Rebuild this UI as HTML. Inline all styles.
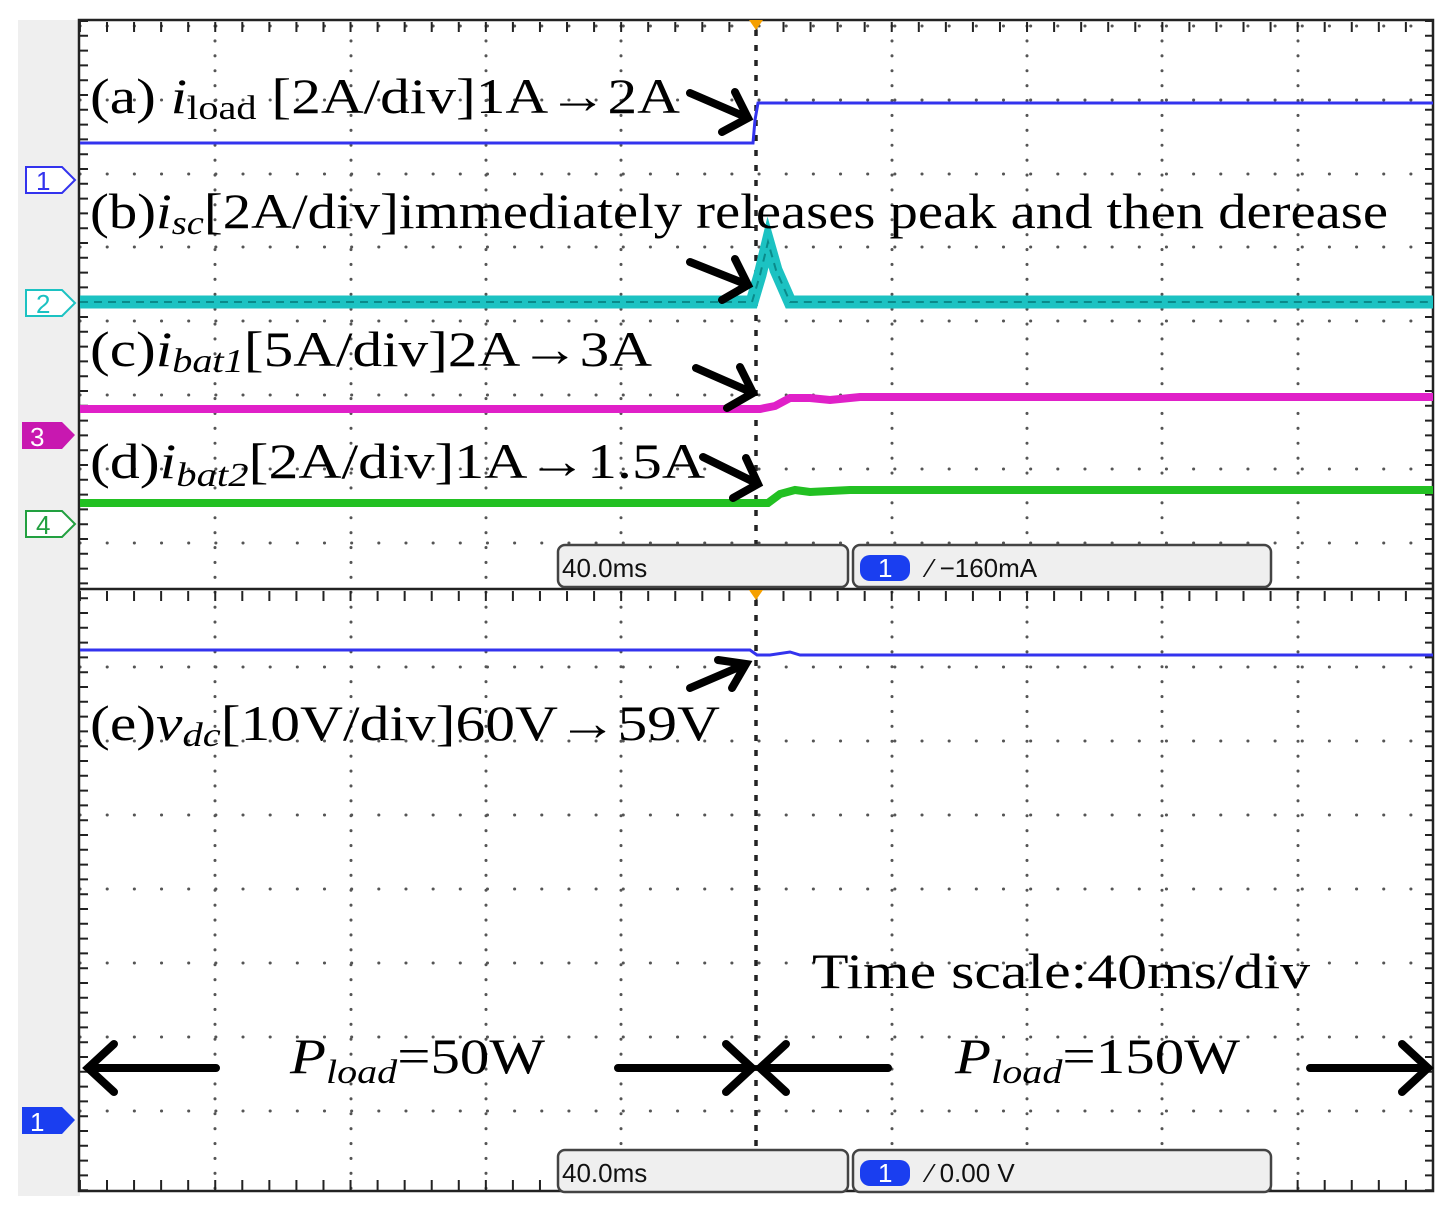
<!DOCTYPE html><html><head><meta charset="utf-8"><style>
html,body{margin:0;padding:0;background:#fff}
svg{display:block}
.t{font-family:"Liberation Serif",serif;font-size:50px;fill:#000}
.s{font-family:"Liberation Sans",sans-serif;font-size:26px;fill:#111}
</style></head><body>
<svg width="1448" height="1219" viewBox="0 0 1448 1219" xmlns="http://www.w3.org/2000/svg">
<rect x="18" y="20" width="62" height="1176" fill="#efefef"/>
<rect x="80" y="20" width="1353" height="1172" fill="#fff"/>
<g stroke="#555" stroke-width="3" stroke-linecap="round" stroke-dasharray="0.1 14.8">
<line x1="215" y1="26" x2="215" y2="1190"/><line x1="351" y1="26" x2="351" y2="1190"/><line x1="486" y1="26" x2="486" y2="1190"/><line x1="621" y1="26" x2="621" y2="1190"/><line x1="892" y1="26" x2="892" y2="1190"/><line x1="1027" y1="26" x2="1027" y2="1190"/><line x1="1162" y1="26" x2="1162" y2="1190"/><line x1="1298" y1="26" x2="1298" y2="1190"/>
</g>
<g stroke="#555" stroke-width="3" stroke-linecap="round" stroke-dasharray="0.1 27.06">
<line x1="80" y1="26" x2="1433" y2="26"/><line x1="80" y1="100" x2="1433" y2="100"/><line x1="80" y1="174" x2="1433" y2="174"/><line x1="80" y1="247" x2="1433" y2="247"/><line x1="80" y1="321" x2="1433" y2="321"/><line x1="80" y1="395" x2="1433" y2="395"/><line x1="80" y1="469" x2="1433" y2="469"/><line x1="80" y1="543" x2="1433" y2="543"/>
<line x1="80" y1="667" x2="1433" y2="667"/><line x1="80" y1="741" x2="1433" y2="741"/><line x1="80" y1="815" x2="1433" y2="815"/><line x1="80" y1="889" x2="1433" y2="889"/><line x1="80" y1="963" x2="1433" y2="963"/><line x1="80" y1="1037" x2="1433" y2="1037"/><line x1="80" y1="1111" x2="1433" y2="1111"/>
</g>
<line x1="756" y1="30" x2="756" y2="1190" stroke="#222" stroke-width="3.5" stroke-dasharray="6 9"/>
<g stroke="#222" stroke-width="2">
<line x1="80" y1="27" x2="1433" y2="27" stroke-dasharray="2 25.06" stroke-width="10" stroke-dashoffset="-26"/>
<line x1="80" y1="1185" x2="1433" y2="1185" stroke-dasharray="2 25.06" stroke-width="10" stroke-dashoffset="-26"/>
<line x1="80" y1="596" x2="1433" y2="596" stroke-dasharray="2 25.06" stroke-width="10" stroke-dashoffset="-26"/>
<line x1="84" y1="20" x2="84" y2="1190" stroke-dasharray="2 12.8" stroke-width="8"/>
<line x1="1429" y1="20" x2="1429" y2="1190" stroke-dasharray="2 12.8" stroke-width="8"/>
</g>
<rect x="79" y="20" width="1354" height="1171" fill="none" stroke="#222" stroke-width="2.5"/>
<line x1="79" y1="589" x2="1433" y2="589" stroke="#222" stroke-width="2.5"/>
<path d="M749 20 L763 20 L756 30Z" fill="#f5a000"/>
<path d="M749 590 L763 590 L756 600Z" fill="#f5a000"/>
<polyline points="80,143 753,143 755,120 758,103 1433,103" fill="none" stroke="#3333ee" stroke-width="3"/>
<polyline points="80,302 752,302 760,275 768,242 776,270 790,302 1433,302" fill="none" stroke="#1cc2c2" stroke-width="13"/>
<polyline points="80,302 752,302 760,275 768,242 776,270 790,302 1433,302" fill="none" stroke="#0a8a8a" stroke-width="2" stroke-dasharray="8 6"/>
<polyline points="80,409 760,409 775,406 790,398 810,398 830,400 860,397 1433,397" fill="none" stroke="#e020c8" stroke-width="8"/>
<polyline points="80,503 768,503 780,494 795,490 810,492 850,490 1433,490" fill="none" stroke="#22c022" stroke-width="8"/>
<polyline points="80,650 750,650 757,655 770,655 790,652 800,655 1433,655" fill="none" stroke="#3333ee" stroke-width="3"/>
<g stroke="#000" stroke-width="8" stroke-linecap="round" fill="none">
<path d="M690 93 L748 118 M722 132 L748 118 L735 92"/>
<path d="M690 262 L748 285 M722 300 L748 285 L735 259"/>
<path d="M696 368 L753 393 M727 408 L753 393 L740 367"/>
<path d="M703 457 L758 484 M733 498 L758 484 L746 458"/>
<path d="M690 688 L746 664 M718 660 L746 664 L732 688"/>
<path d="M90 1068 L216 1068 M114 1044 L88 1068 L114 1092"/>
<path d="M618 1068 L750 1068 M726 1044 L752 1068 L726 1092"/>
<path d="M760 1068 L888 1068 M786 1044 L760 1068 L786 1092"/>
<path d="M1310 1068 L1426 1068 M1402 1044 L1428 1068 L1402 1092"/>
</g>
<g fill="#efefef" stroke="#444" stroke-width="2.5">
<rect x="558" y="545" width="290" height="42" rx="7"/><rect x="853" y="545" width="418" height="42" rx="7"/>
<rect x="558" y="1150" width="290" height="42" rx="7"/><rect x="853" y="1150" width="418" height="42" rx="7"/>
</g>
<text x="562" y="577" class="s">40.0ms</text><text x="562" y="1182" class="s">40.0ms</text>
<rect x="860" y="555" width="50" height="26" rx="10" fill="#1a3ef0"/><text x="878" y="577" class="s" style="fill:#fff">1</text>
<rect x="860" y="1160" width="50" height="26" rx="10" fill="#1a3ef0"/><text x="878" y="1182" class="s" style="fill:#fff">1</text>
<text x="928" y="577" class="s">⁄ −160mA</text><text x="928" y="1182" class="s">⁄ 0.00 V</text>
<path d="M26 167 H62 L75 180 L62 193 H26Z" fill="#fff" stroke="#3333ee" stroke-width="2"/><text x="36" y="190" class="s" style="fill:#3333ee">1</text>
<path d="M26 290 H62 L75 303 L62 316 H26Z" fill="#fff" stroke="#1cc2c2" stroke-width="2"/><text x="36" y="313" class="s" style="fill:#1cc2c2">2</text>
<path d="M22 422 H62 L75 435 L62 449 H22Z" fill="#c818b0"/><text x="30" y="446" class="s" style="fill:#fff">3</text>
<path d="M26 511 H62 L75 524 L62 537 H26Z" fill="#fff" stroke="#22a040" stroke-width="2"/><text x="36" y="534" class="s" style="fill:#22a040">4</text>
<path d="M22 1107 H62 L75 1120 L62 1134 H22Z" fill="#1a3ef0"/><text x="30" y="1131" class="s" style="fill:#fff">1</text>
<text x="90" y="113" class="t" textLength="590" lengthAdjust="spacingAndGlyphs">(a) <tspan font-style="italic">i</tspan><tspan font-size="34" dy="6">load</tspan><tspan dy="-6"> [2A/div]1A→2A</tspan></text>
<text x="90" y="228" class="t" textLength="1298" lengthAdjust="spacingAndGlyphs">(b)<tspan font-style="italic">i</tspan><tspan font-size="34" dy="6" font-style="italic">sc</tspan><tspan dy="-6">[2A/div]immediately releases peak and then derease</tspan></text>
<text x="90" y="366" class="t" textLength="562" lengthAdjust="spacingAndGlyphs">(c)<tspan font-style="italic">i</tspan><tspan font-size="34" dy="6" font-style="italic">bat1</tspan><tspan dy="-6">[5A/div]2A→3A</tspan></text>
<text x="90" y="478" class="t" textLength="615" lengthAdjust="spacingAndGlyphs">(d)<tspan font-style="italic">i</tspan><tspan font-size="34" dy="8" font-style="italic">bat2</tspan><tspan dy="-8">[2A/div]1A→1.5A</tspan></text>
<text x="90" y="740" class="t" textLength="630" lengthAdjust="spacingAndGlyphs">(e)<tspan font-style="italic">v</tspan><tspan font-size="34" dy="6" font-style="italic">dc</tspan><tspan dy="-6">[10V/div]60V→59V</tspan></text>
<text x="812" y="988" class="t" textLength="498" lengthAdjust="spacingAndGlyphs">Time scale:40ms/div</text>
<text x="290" y="1073" class="t" textLength="255" lengthAdjust="spacingAndGlyphs"><tspan font-style="italic">P</tspan><tspan font-size="34" dy="10" font-style="italic">load</tspan><tspan dy="-10">=50W</tspan></text>
<text x="955" y="1073" class="t" textLength="285" lengthAdjust="spacingAndGlyphs"><tspan font-style="italic">P</tspan><tspan font-size="34" dy="10" font-style="italic">load</tspan><tspan dy="-10">=150W</tspan></text>
</svg>
</body></html>
